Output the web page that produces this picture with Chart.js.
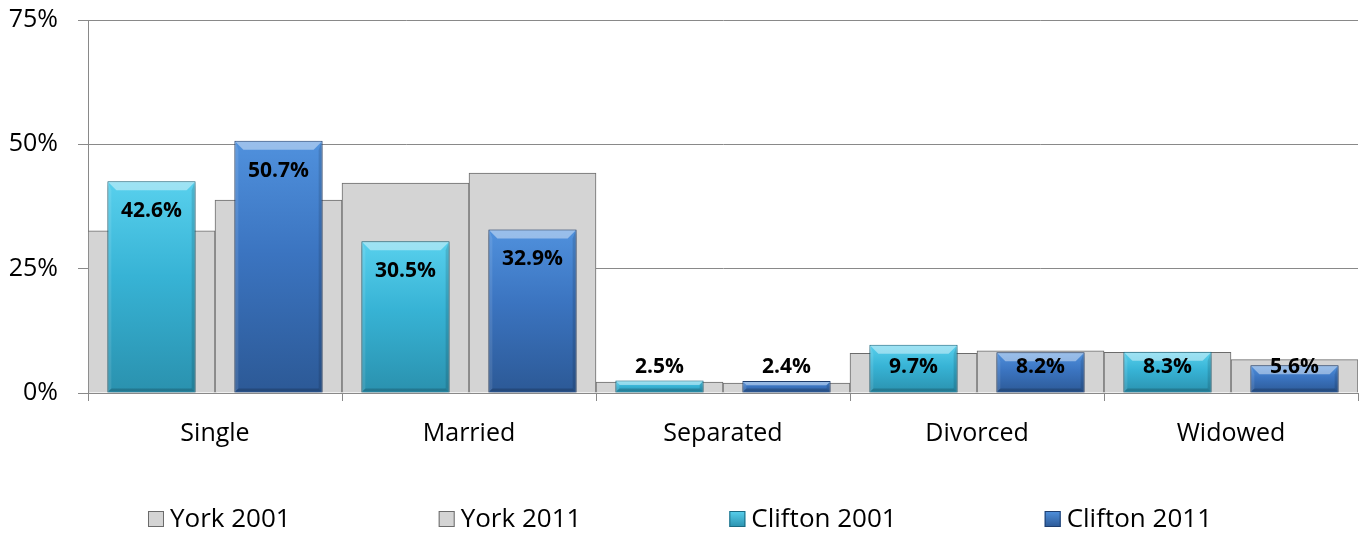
<!DOCTYPE html>
<html>
<head>
<meta charset="utf-8">
<script src="https://cdn.jsdelivr.net/npm/chart.js@4.4.0/dist/chart.umd.min.js"></script>
<style>
html, body { margin: 0; padding: 0; background: #fff; }
#wrap { width: 1372px; height: 537px; }
</style>
</head>
<body>
<div id="wrap"><canvas id="barChart" width="1372" height="537"></canvas></div>
<script>
var categories = ['Single', 'Married', 'Separated', 'Divorced', 'Widowed'];
var york2001 = [32.6, 42.2, 2.2, 8.0, 8.2];
var york2011 = [38.8, 44.2, 2.0, 8.5, 6.7];
var clifton2001 = [42.6, 30.5, 2.5, 9.7, 8.3];
var clifton2011 = [50.7, 32.9, 2.4, 8.2, 5.6];
var yTicks = [0, 25, 50, 75];

var cyanStops = ['#58d0ed', '#37b3d5', '#2a91ae'];
var blueStops = ['#5091dd', '#3b74c0', '#2c5996'];

Chart.defaults.font.family = '"Open Sans", sans-serif';

// vertical gradient for each bar, from its top down to the zero line
function barGradient(stops) {
    return function(c) {
        var chart = c.chart;
        if (c.type !== 'data' || !chart.chartArea || !c.parsed) return stops[1];
        var y = chart.scales.y;
        var top = y.getPixelForValue(c.parsed.y);
        var bottom = y.getPixelForValue(0);
        if (!isFinite(top) || bottom - top < 1) return stops[1];
        var g = chart.ctx.createLinearGradient(0, top, 0, bottom);
        g.addColorStop(0, stops[0]);
        g.addColorStop(0.45, stops[1]);
        g.addColorStop(1, stops[2]);
        return g;
    };
}

function poly(ctx, pts, color) {
    ctx.fillStyle = color;
    ctx.beginPath();
    ctx.moveTo(pts[0], pts[1]);
    for (var i = 2; i < pts.length; i += 2) ctx.lineTo(pts[i], pts[i + 1]);
    ctx.closePath();
    ctx.fill();
}

// shadow under the blue bars plus a bevel on top of them
var bevelPlugin = {
    id: 'bevel',
    beforeDatasetDraw: function(chart, args) {
        if (!chart.data.datasets[args.index].bevel) return;
        var ctx = chart.ctx;
        ctx.save();
        ctx.shadowColor = 'rgba(0,0,0,0.35)';
        ctx.shadowBlur = 6;
        ctx.shadowOffsetY = 3;
    },
    afterDatasetDraw: function(chart, args) {
        if (!chart.data.datasets[args.index].bevel) return;
        var ctx = chart.ctx;
        ctx.restore();
        ctx.save();
        args.meta.data.forEach(function(bar) {
            var p = bar.getProps(['x', 'y', 'base', 'width'], true);
            var l = p.x - p.width / 2 + 1, r = p.x + p.width / 2 - 1, t = p.y + 1, b = p.base - 1;
            var d = Math.min(8, (b - t) / 3);
            var s = Math.min(3, d);
            poly(ctx, [l, t, r, t, r - d, t + d, l + d, t + d], 'rgba(255,255,255,0.42)');
            poly(ctx, [l, t, l + s, t + d, l + s, b - s, l, b], 'rgba(255,255,255,0.1)');
            poly(ctx, [r, t, r - s, t + d, r - s, b - s, r, b], 'rgba(0,0,0,0.12)');
            poly(ctx, [l, b, l + s, b - s, r - s, b - s, r, b], 'rgba(0,0,0,0.18)');
        });
        ctx.restore();
    }
};

var valueLabelPlugin = {
    id: 'valueLabels',
    afterDatasetsDraw: function(chart) {
        var ctx = chart.ctx;
        ctx.save();
        ctx.font = 'bold 21px "Open Sans"';
        ctx.fillStyle = '#000';
        ctx.textAlign = 'center';
        ctx.textBaseline = 'middle';
        chart.data.datasets.forEach(function(ds, i) {
            if (!ds.valueLabels) return;
            chart.getDatasetMeta(i).data.forEach(function(bar, j) {
                var y = Math.min(bar.y + 30, bar.base - 25);
                ctx.fillText(ds.data[j].toFixed(1) + '%', bar.x, y);
            });
        });
        ctx.restore();
    }
};

// legend spread out along the bottom like the original
var spreadLegend = {
    id: 'spreadLegend',
    afterDraw: function(chart) {
        var ctx = chart.ctx;
        var box = 16, gap = 6, spacing = 148, cy = 519, center = 680;
        ctx.save();
        ctx.font = '26px "Open Sans"';
        var sets = chart.data.datasets;
        var widths = sets.map(function(ds) { return box + gap + ctx.measureText(ds.label).width; });
        var total = widths.reduce(function(a, b) { return a + b; }, 0) + spacing * (sets.length - 1);
        var x = center - total / 2;
        sets.forEach(function(ds, i) {
            var top = cy - box / 2;
            var fill = ds.legendFill;
            if (Array.isArray(fill)) {
                var g = ctx.createLinearGradient(0, top, 0, top + box);
                g.addColorStop(0, fill[0]);
                g.addColorStop(1, fill[fill.length - 1]);
                fill = g;
            }
            ctx.fillStyle = fill;
            ctx.fillRect(x, top, box, box);
            ctx.strokeStyle = ds.borderColor;
            ctx.lineWidth = 1;
            ctx.strokeRect(x + 0.5, top + 0.5, box - 1, box - 1);
            ctx.fillStyle = '#000';
            ctx.textBaseline = 'middle';
            ctx.textAlign = 'left';
            ctx.fillText(ds.label, x + box + gap, cy + 1);
            x += widths[i] + spacing;
        });
        ctx.restore();
    }
};

function draw() {
    var ctx = document.getElementById('barChart').getContext('2d');
    // 2001 bars share the left half of each category, 2011 bars the right half;
    // York is the wide grey bar behind, Clifton the narrow coloured one in front
    new Chart(ctx, {
        type: 'bar',
        data: {
            labels: categories,
            datasets: [
                { label: 'York 2001', data: york2001, stack: 'y2001', order: 2,
                  backgroundColor: '#d4d4d4', borderColor: '#6b6b6b', borderWidth: 1,
                  categoryPercentage: 1, barPercentage: 1, legendFill: '#d4d4d4' },
                { label: 'York 2011', data: york2011, stack: 'y2011', order: 2,
                  backgroundColor: '#d4d4d4', borderColor: '#6b6b6b', borderWidth: 1,
                  categoryPercentage: 1, barPercentage: 1, legendFill: '#d4d4d4' },
                { label: 'Clifton 2001', data: clifton2001, stack: 'y2001', order: 1,
                  backgroundColor: barGradient(cyanStops), borderColor: '#1b6a82', borderWidth: 1,
                  categoryPercentage: 1, barPercentage: 0.695, bevel: true, valueLabels: true,
                  legendFill: cyanStops },
                { label: 'Clifton 2011', data: clifton2011, stack: 'y2011', order: 1,
                  backgroundColor: barGradient(blueStops), borderColor: '#1f3f70', borderWidth: 1,
                  categoryPercentage: 1, barPercentage: 0.695, bevel: true, valueLabels: true,
                  legendFill: blueStops }
            ]
        },
        options: {
            responsive: false,
            animation: false,
            layout: { padding: { top: 20, right: 14, left: 0, bottom: 0 } },
            plugins: {
                legend: { display: false },
                tooltip: { enabled: false }
            },
            scales: {
                x: {
                    offset: true,
                    grid: { offset: true, drawOnChartArea: false, tickLength: 8, color: '#898989' },
                    border: { color: '#898989' },
                    ticks: { font: { size: 25 }, color: '#000', padding: 18, maxRotation: 0 },
                    afterFit: function(s) { s.height = 144; }
                },
                y: {
                    stacked: false,
                    min: 0,
                    max: 75,
                    afterBuildTicks: function(s) { s.ticks = yTicks.map(function(v) { return { value: v }; }); },
                    ticks: { callback: function(v) { return v + '%'; }, font: { size: 25 }, color: '#000', padding: 20 },
                    grid: { color: '#898989', tickLength: 10 },
                    border: { color: '#898989' },
                    afterFit: function(s) {
                        s.width = 88;
                        s.paddingTop = 0;
                        s.paddingBottom = 0;
                    }
                }
            }
        },
        plugins: [bevelPlugin, valueLabelPlugin, spreadLegend]
    });
}

if (document.fonts && document.fonts.load) {
    Promise.all([
        document.fonts.load('25px "Open Sans"'),
        document.fonts.load('bold 21px "Open Sans"')
    ]).then(draw, draw);
} else {
    draw();
}
</script>
</body>
</html>
